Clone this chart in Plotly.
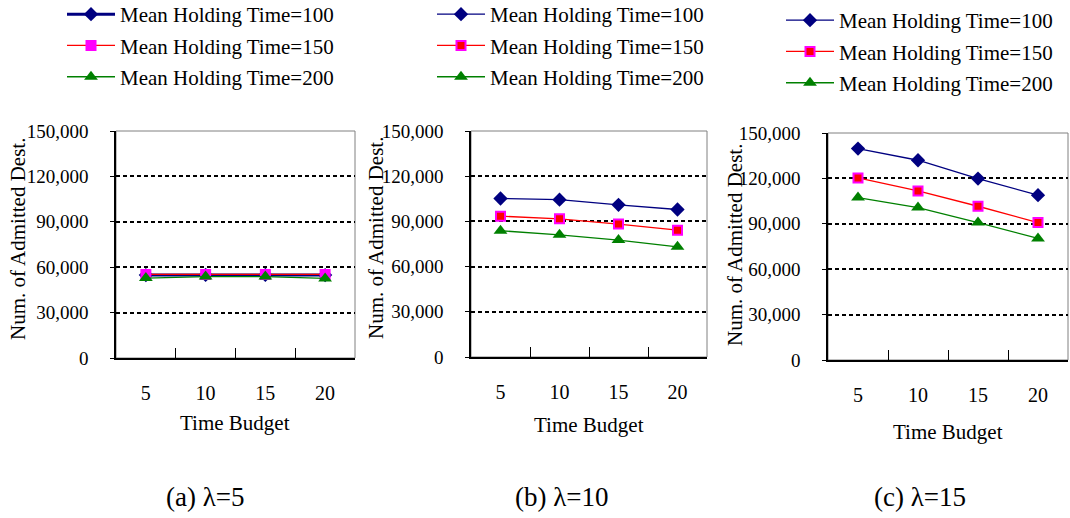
import plotly.graph_objects as go

# ---- data ----
budgets = ["5", "10", "15", "20"]
series_names = ["Mean Holding Time=100", "Mean Holding Time=150", "Mean Holding Time=200"]

a_mht100 = [54800, 54900, 54900, 54800]
a_mht150 = [55200, 55200, 55200, 55200]
a_mht200 = [52800, 53800, 53800, 52600]

b_mht100 = [105200, 104400, 101000, 97900]
b_mht150 = [93500, 91700, 88200, 84200]
b_mht200 = [83800, 81100, 77600, 73100]

c_mht100 = [139700, 132000, 119900, 108900]
c_mht150 = [120300, 111700, 101600, 90800]
c_mht200 = [107300, 100700, 90800, 80300]

y_ticks = [0, 30000, 60000, 90000, 120000, 150000]
captions = ["(a) λ=5", "(b) λ=10", "(c) λ=15"]
y_title = "Num. of Admitted Dest."
x_title = "Time Budget"

W, H = 1070, 518
FONT = "Liberation Serif"

def px_x(p):
    return p / W

def px_y(p):
    return 1 - p / H

panels = [
    dict(data=[a_mht100, a_mht150, a_mht200], xd=(116, 355), yd=(131, 358),
         sq_fill="#FF00FF", blue_w=3, ytitle_x=18, ytitle_y=239, xtitle_y=423,
         cap_x=205, leg_x=62, leg_y=-6),
    dict(data=[b_mht100, b_mht150, b_mht200], xd=(471, 707), yd=(131, 357),
         sq_fill="#FF0000", blue_w=1.3, ytitle_x=376, ytitle_y=238, xtitle_y=425,
         cap_x=562, leg_x=432, leg_y=-6),
    dict(data=[c_mht100, c_mht150, c_mht200], xd=(828, 1068), yd=(133, 360),
         sq_fill="#FF0000", blue_w=1.3, ytitle_x=735, ytitle_y=245, xtitle_y=432,
         cap_x=920, leg_x=781, leg_y=0),
]

fig = go.Figure()
layout = dict(width=W, height=H, margin=dict(l=0, r=0, t=0, b=0, autoexpand=False),
              paper_bgcolor="white", plot_bgcolor="white",
              font=dict(family=FONT, color="black", size=20),
              annotations=[], shapes=[], showlegend=True)

for i, p in enumerate(panels):
    n = "" if i == 0 else str(i + 1)
    xa, ya = "x" + n, "y" + n
    leg = "legend" + n
    styles = [
        dict(line=dict(color="#000080", width=p["blue_w"]),
             marker=dict(symbol="diamond", size=11, color="#000080")),
        dict(line=dict(color="#FF0000", width=1.3),
             marker=dict(symbol="square", size=9, color=p["sq_fill"],
                         line=dict(color="#FF00FF", width=2))),
        dict(line=dict(color="#008000", width=1.3),
             marker=dict(symbol="triangle-up", size=12, color="#008000")),
    ]
    for k, (vals, st) in enumerate(zip(p["data"], styles)):
        fig.add_trace(go.Scatter(x=budgets, y=vals, name=series_names[k], mode="lines+markers",
                                 xaxis=xa, yaxis=ya, legend=leg, legendgroup=f"g{i}{k}",
                                 **st))
    layout["xaxis" + n] = dict(domain=[px_x(p["xd"][0]), px_x(p["xd"][1])], anchor=ya,
                               type="category", range=[-0.5, 3.5], tickson="boundaries",
                               ticks="inside", ticklen=10, tickcolor="black", tickwidth=1,
                               showline=True, linecolor="black", linewidth=1.5,
                               showgrid=False, ticklabelstandoff=16, automargin=False,
                               tickfont=dict(size=20, family=FONT, color="black"))
    layout["yaxis" + n] = dict(domain=[px_y(p["yd"][1]), px_y(p["yd"][0])], anchor=xa,
                               range=[0, 150000], tickvals=y_ticks, tickformat=",d",
                               ticks="outside", ticklen=4, tickcolor="black",
                               showline=True, linecolor="black", linewidth=1.5,
                               showgrid=True, gridcolor="black", gridwidth=2,
                               griddash="4px,3px", zeroline=False, ticklabelstandoff=18,
                               automargin=False,
                               tickfont=dict(size=19, family=FONT, color="black"))
    layout["shapes"].append(dict(type="rect", xref=xa + " domain", yref=ya + " domain",
                                 x0=0, x1=1, y0=0, y1=1, line=dict(color="#808080", width=1),
                                 layer="below"))
    layout["annotations"] += [
        dict(text=y_title, textangle=-90, x=px_x(p["ytitle_x"]), y=px_y(p["ytitle_y"]),
             xref="paper", yref="paper", xanchor="center", yanchor="middle",
             showarrow=False, font=dict(size=21, family=FONT)),
        dict(text=x_title, x=(px_x(p["xd"][0]) + px_x(p["xd"][1])) / 2, y=px_y(p["xtitle_y"]),
             xref="paper", yref="paper", xanchor="center", yanchor="middle",
             showarrow=False, font=dict(size=21, family=FONT)),
        dict(text=captions[i], x=px_x(p["cap_x"]), y=px_y(497), xref="paper", yref="paper",
             xanchor="center", yanchor="middle",
             showarrow=False, font=dict(size=27, family=FONT)),
    ]
    layout[leg] = dict(x=px_x(p["leg_x"]), y=px_y(p["leg_y"]), xanchor="left", yanchor="top",
                       bgcolor="rgba(0,0,0,0)", font=dict(size=21, family=FONT, color="black"),
                       tracegroupgap=1, itemwidth=48)

fig.update_layout(**layout)
fig.write_html("out.html", config={"displayModeBar": False},
               post_script="document.body.style.margin='0px';")
